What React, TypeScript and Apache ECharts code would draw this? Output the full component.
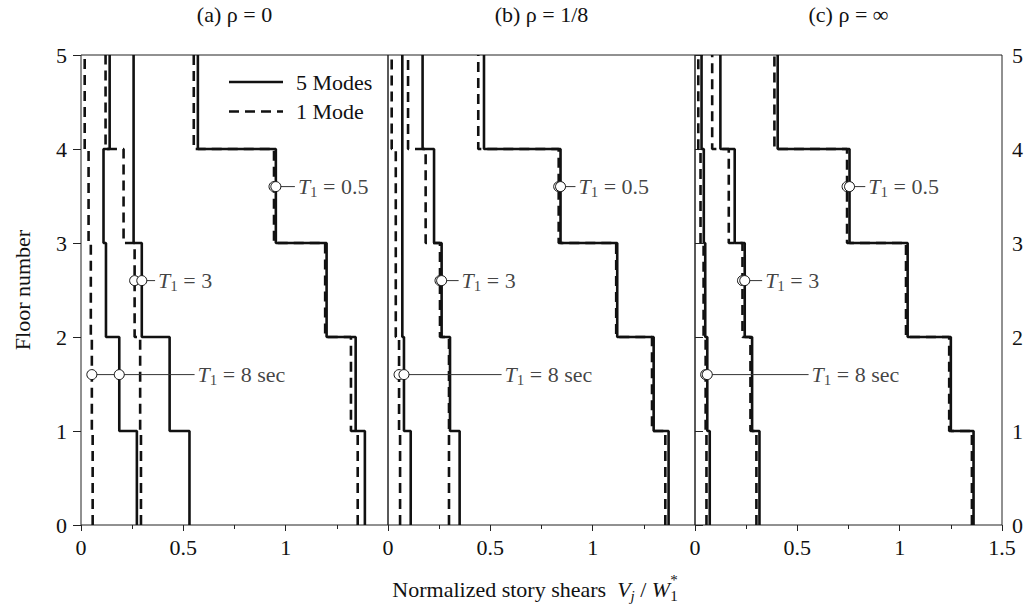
import React, { useEffect, useRef } from "react";
import * as echarts from "echarts";

// ---------- data (story shears, stories 1..5, bottom to top) ----------
const panelTitles = ["(a) ρ = 0", "(b) ρ = 1/8", "(c) ρ = ∞"];
const periodTexts = ["0.5", "3", "8 sec"];
const legendNames = ["5 Modes", "1 Mode"];
const markerFloors = [3.6, 2.6, 1.6];
const leaderEnds = [
  [1.045, 0.362, 0.555],
  [0.916, 0.345, 0.555],
  [0.832, 0.328, 0.555],
];

// panel (a) rho = 0
const aT05five = [1.387, 1.342, 1.2, 0.952, 0.571];
const aT05one = [1.352, 1.319, 1.193, 0.943, 0.551];
const aT3five = [0.53, 0.433, 0.297, 0.257, 0.257];
const aT3one = [0.293, 0.289, 0.262, 0.208, 0.12];
const aT8five = [0.273, 0.187, 0.122, 0.11, 0.14];
const aT8one = [0.057, 0.053, 0.048, 0.037, 0.018];

// panel (b) rho = 1/8
const bT05five = [1.371, 1.298, 1.12, 0.843, 0.469];
const bT05one = [1.355, 1.29, 1.115, 0.834, 0.441];
const bT3five = [0.35, 0.303, 0.262, 0.225, 0.169];
const bT3one = [0.298, 0.298, 0.254, 0.184, 0.098];
const bT8five = [0.111, 0.078, 0.07, 0.07, 0.07];
const bT8one = [0.059, 0.054, 0.038, 0.038, 0.018];

// panel (c) rho = infinity
const cT05five = [1.361, 1.25, 1.039, 0.755, 0.404];
const cT05one = [1.353, 1.242, 1.031, 0.743, 0.388];
const cT3five = [0.315, 0.279, 0.243, 0.194, 0.124];
const cT3one = [0.3, 0.271, 0.232, 0.165, 0.084];
const cT8five = [0.072, 0.06, 0.05, 0.043, 0.032];
const cT8one = [0.056, 0.052, 0.042, 0.027, 0.016];

const fiveModes = [
  [aT05five, aT3five, aT8five],
  [bT05five, bT3five, bT8five],
  [cT05five, cT3five, cT8five],
];
const oneMode = [
  [aT05one, aT3one, aT8one],
  [bT05one, bT3one, bT8one],
  [cT05one, cT3one, cT8one],
];

const FONT = "Liberation Serif";
const INK = "#111111";
const FS = 22;
const DASH = [10, 6];
const LW = 2.6;

function steps(v: number[]) {
  const pts: number[][] = [];
  v.forEach((x, j) => {
    pts.push([x, j]);
    pts.push([x, j + 1]);
  });
  return pts;
}

function measure(text: string, font: string) {
  const c = document.createElement("canvas").getContext("2d")!;
  c.font = font;
  return c.measureText(text).width;
}

export default function App() {
  const ref = useRef<HTMLDivElement>(null);
  useEffect(() => {
    document.body.style.margin = "0";
    const chart = echarts.init(ref.current!, null, { renderer: "svg" });

    const gridLefts = [81, 388, 695];
    const gridW = 307;
    const grid = gridLefts.map((l) => ({
      left: l,
      top: 55,
      width: gridW,
      height: 470,
      show: true,
      borderColor: "#222",
      borderWidth: 1,
      backgroundColor: "transparent",
    }));

    const xAxis = gridLefts.map((_, i) => ({
      type: "value",
      gridIndex: i,
      min: 0,
      max: 1.5,
      interval: 0.5,
      axisLine: { show: false },
      axisTick: { show: true, length: 6, lineStyle: { color: "#222" } },
      minorTick: { show: true, splitNumber: 2, length: 4, lineStyle: { color: "#222" } },
      splitLine: { show: false },
      axisLabel: {
        margin: 11,
        fontFamily: FONT,
        fontSize: FS,
        color: INK,
        showMinLabel: true,
        showMaxLabel: true,
        formatter: (v: number) => (i < 2 && v === 1.5 ? "" : String(v)),
      },
    }));

    const yAxis = gridLefts.map((_, i) => ({
      type: "value",
      gridIndex: i,
      min: 0,
      max: 5,
      interval: 1,
      position: i === 2 ? "right" : "left",
      axisLine: { show: false },
      axisTick: { show: i !== 1, length: 8, lineStyle: { color: "#222" } },
      splitLine: { show: false },
      axisLabel: {
        show: i !== 1,
        margin: i === 2 ? 10 : 14,
        fontFamily: FONT,
        fontSize: FS,
        color: INK,
      },
    }));

    const rich = {
      t: { fontFamily: FONT, fontSize: FS, fontStyle: "italic", color: INK, lineHeight: 26 },
      s: { fontFamily: FONT, fontSize: 15, color: INK, lineHeight: 14, verticalAlign: "bottom" },
      n: { fontFamily: FONT, fontSize: FS, color: INK, lineHeight: 26 },
    };

    const series: any[] = [];
    for (let p = 0; p < 3; p++) {
      for (let k = 0; k < 3; k++) {
        series.push({
          type: "line",
          name: legendNames[1],
          xAxisIndex: p,
          yAxisIndex: p,
          data: steps(oneMode[p][k]),
          symbol: "none",
          silent: true,
          lineStyle: { color: INK, width: LW, type: DASH },
          z: 2,
        });
        series.push({
          type: "line",
          name: legendNames[0],
          xAxisIndex: p,
          yAxisIndex: p,
          data: steps(fiveModes[p][k]),
          symbol: "none",
          silent: true,
          lineStyle: { color: INK, width: LW, type: "solid" },
          z: 3,
        });
      }
      const circles: number[][] = [];
      const labels: any[] = [];
      for (let k = 0; k < 3; k++) {
        const mf = markerFloors[k];
        const idx = Math.floor(mf);
        const xs = [oneMode[p][k][idx], fiveModes[p][k][idx]];
        xs.forEach((x) => circles.push([x, mf]));
        const end = leaderEnds[p][k];
        series.push({
          type: "line",
          xAxisIndex: p,
          yAxisIndex: p,
          data: [
            [Math.min(...xs), mf],
            [end, mf],
          ],
          symbol: "none",
          silent: true,
          lineStyle: { color: "#333", width: 1 },
          z: 4,
        });
        labels.push({
          value: [end, mf],
          label: {
            show: true,
            position: "right",
            distance: 3,
            color: INK,
            formatter: `{t|T}{s|1}{n| = ${periodTexts[k]}}`,
            rich,
          },
        });
      }
      series.push({
        type: "scatter",
        xAxisIndex: p,
        yAxisIndex: p,
        data: circles,
        symbol: "circle",
        symbolSize: 10,
        silent: true,
        itemStyle: { color: "#fff", borderColor: INK, borderWidth: 1, opacity: 1 },
        z: 6,
      });
      series.push({
        type: "scatter",
        xAxisIndex: p,
        yAxisIndex: p,
        data: labels,
        symbolSize: 0,
        silent: true,
        itemStyle: { color: "transparent" },
        z: 7,
      });
    }

    // x-axis title built from pieces
    const fMain = `${FS}px ${FONT}`;
    const fIt = `italic ${FS}px ${FONT}`;
    const fSub = `15px ${FONT}`;
    const fSubIt = `italic 15px ${FONT}`;
    const pieces = [
      { t: "Normalized story shears  ", f: fMain, dy: 0 },
      { t: "V", f: fIt, dy: 0 },
      { t: "j", f: fSubIt, dy: 7 },
      { t: " / ", f: fMain, dy: 0 },
      { t: "W", f: fIt, dy: 0 },
      { t: "1", f: fSub, dy: 7 },
    ];
    const widths = pieces.map((pc) => measure(pc.t, pc.f));
    const total = widths.reduce((a, b) => a + b, 0);
    let cx = 535 - total / 2;
    const titleEls: any[] = [];
    pieces.forEach((pc, i) => {
      titleEls.push({
        type: "text",
        x: cx,
        y: 589 + pc.dy,
        style: { text: pc.t, font: pc.f, fill: INK, textAlign: "left", textVerticalAlign: "middle" },
      });
      if (pc.t === "1") {
        titleEls.push({
          type: "text",
          x: cx,
          y: 580,
          style: { text: "*", font: fSub, fill: INK, textAlign: "left", textVerticalAlign: "middle" },
        });
      }
      cx += widths[i];
    });

    // legend drawn as decoration
    const legendEls: any[] = [];
    legendNames.forEach((name, i) => {
      const y = 82 + i * 29.5;
      legendEls.push({
        type: "line",
        shape: { x1: 229, y1: y, x2: 283, y2: y },
        style: { stroke: INK, lineWidth: LW, lineDash: i === 1 ? DASH : null },
      });
      legendEls.push({
        type: "text",
        x: 296,
        y,
        style: { text: name, font: fMain, fill: INK, textAlign: "left", textVerticalAlign: "middle" },
      });
    });

    const option: any = {
      animation: false,
      grid,
      xAxis,
      yAxis,
      series,
      graphic: [
        ...panelTitles.map((t, i) => ({
          type: "text",
          x: gridLefts[i] + gridW / 2,
          y: 14,
          style: { text: t, font: fMain, fill: INK, textAlign: "center", textVerticalAlign: "middle" },
        })),
        {
          type: "text",
          x: 22,
          y: 290,
          rotation: Math.PI / 2,
          style: { text: "Floor number", font: fMain, fill: INK, textAlign: "center", textVerticalAlign: "middle" },
        },
        ...legendEls,
        ...titleEls,
      ],
    };
    chart.setOption(option);
    return () => chart.dispose();
  }, []);
  return <div ref={ref} style={{ width: 1033, height: 609 }} />;
}
